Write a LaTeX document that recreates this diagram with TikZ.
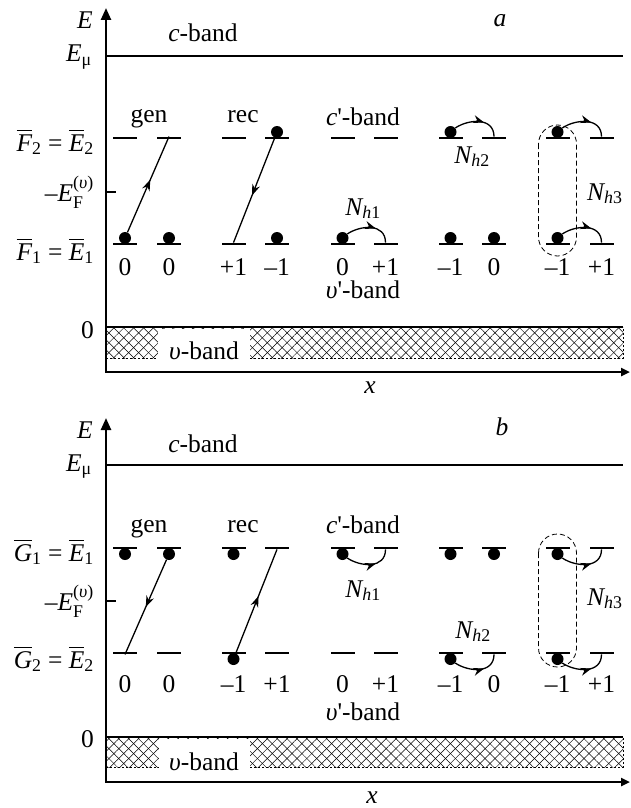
\documentclass[tikz,border=0pt]{standalone}
\usepackage{amsmath}
\usepackage{fontspec}
\setmainfont{Liberation Serif}
\usetikzlibrary{arrows.meta,patterns.meta,decorations.markings}
\newcommand{\vi}[1]{\text{\itshape #1}}
\begin{document}
\begin{tikzpicture}[x=1pt,y=-1pt,
  every node/.style={font=\fontsize{25.5}{30}\selectfont, inner sep=0pt},
  lev/.style={rectangle,fill=black,minimum width=24pt,minimum height=2.4pt,inner sep=0pt},
  ball/.style={circle,fill=black,minimum size=12pt,inner sep=0pt},
  conn/.style={line width=1.3pt},
  tipmid/.style={postaction={decorate},decoration={markings,mark=at position #1 with {\arrow{Stealth[length=11pt,width=8pt]}}}},
  axisline/.style={line width=2.4pt},
  bandline/.style={line width=2pt},
  oval/.style={line width=0.8pt,dash pattern=on 5pt off 3pt,rounded corners=19pt},
  hatchA/.style={pattern={Lines[angle=45,distance=7pt,line width=0.5pt]}},
  hatchB/.style={pattern={Lines[angle=-45,distance=7pt,line width=0.5pt]}},
  ]
\useasboundingbox (0,0) rectangle (630,808);

% ================= panel a =================
\foreach \i/\x in {1/125,2/169,3/233.5,4/277,5/342.5,6/385.5,7/450.5,8/494,9/557.5,10/601.5}{
  \node[lev] (aT\i) at (\x,138) {};
  \node[lev] (aB\i) at (\x,244) {};
}
% hatched v-band
\fill[hatchA] (106,327) rectangle (623,358);
\fill[hatchB] (106,327) rectangle (623,358);
\draw[line width=0.5pt,dash pattern=on 2pt off 2pt] (106,358) -- (623,358) -- (623,327);
\fill[white] (158,329) rectangle (250,359);
\node[anchor=base] (avband) at (204,359) {\textit{υ}-band};
\draw[bandline] (106,327) -- (623,327);
% axes
\draw[axisline,{Triangle[length=12pt,width=10pt]}-{Triangle[length=9pt,width=8pt]}] (106,8) -- (106,372) -- (630,372);
\draw[line width=1.5pt] (106,192) -- (116,192);
\draw[bandline] (106,56) -- (623,56);
% labels
\node[anchor=base east] (aE) at (93,29) {$\vi{E}$};
\node[anchor=base east] (aEmu) at (92,62) {$\vi{E}_{\text{μ}}$};
\node[anchor=base] (acband) at (203,42) {\textit{c}-band};
\node[anchor=base] (alab) at (500,27) {\textit{a}};
\node[anchor=base east] (aF2) at (94,151) {$\overline{\vi{F}}_{\text{2}}\text{ = }\overline{\vi{E}}_{\text{2}}$};
\node[anchor=base east] (aEF) at (94,201) {$\text{–}\vi{E}_{\text{F}}^{\text{(}\vi{υ}\text{)}}$};
\node[anchor=base east] (aF1) at (94,260) {$\overline{\vi{F}}_{\text{1}}\text{ = }\overline{\vi{E}}_{\text{1}}$};
\node[anchor=base east] (azero) at (94,338) {0};
\node[anchor=base] (agen) at (149,122) {gen};
\node[anchor=base] (arec) at (243,122) {rec};
\node[anchor=base] (acp) at (363,125) {\textit{c}\textquotesingle-band};
\node[anchor=base] (avp) at (363,298) {\textit{υ}\textquotesingle-band};
\node[anchor=base] (aNh1) at (363,215) {$\vi{N}_{\vi{h}\text{1}}$};
\node[anchor=base] (aNh2) at (472,163) {$\vi{N}_{\vi{h}\text{2}}$};
\node[anchor=base west] (aNh3) at (587,200) {$\vi{N}_{\vi{h}\text{3}}$};
\node[anchor=base] (ax) at (370,393) {\textit{x}};
\foreach \i/\x/\t in {1/125/0,2/169/0,3/233.5/+1,4/277/–1,5/342.5/0,6/385.5/+1,7/450.5/–1,8/494/0,9/557.5/–1,10/601.5/+1}{
  \node[anchor=base] (an\i) at (\x,275) {\t};
}
% dots
\node[ball] (daB1) at (125,238) {};
\node[ball] (daB2) at (169,238) {};
\node[ball] (daT4) at (277,132) {};
\node[ball] (daB4) at (277,238) {};
\node[ball] (daB5) at (342.5,238) {};
\node[ball] (daT7) at (450.5,132) {};
\node[ball] (daB7) at (450.5,238) {};
\node[ball] (daB8) at (494,238) {};
\node[ball] (daT9) at (557.5,132) {};
\node[ball] (daB9) at (557.5,238) {};
% transitions
\draw[conn,tipmid=0.55] (daB1) -- (aT2.north);
\draw[conn,tipmid=0.55] (daT4) -- (aB3.north);
\draw[conn,tipmid=0.62] (daB5.40) .. controls (360.5,225) and (385.5,223) .. (aB6.north);
\draw[conn,tipmid=0.62] (daT7.40) .. controls (468.5,119) and (494,117) .. (aT8.north);
\draw[conn,tipmid=0.62] (daT9.40) .. controls (575.5,119) and (601.5,117) .. (aT10.north);
\draw[conn,tipmid=0.62] (daB9.40) .. controls (575.5,225) and (601.5,223) .. (aB10.north);
\draw[oval] (538.5,125) rectangle (576.5,256);

% ================= panel b =================
\foreach \i/\x in {1/125,2/169,3/233.5,4/277,5/342.5,6/385.5,7/450.5,8/494,9/557.5,10/601.5}{
  \node[lev] (bT\i) at (\x,548) {};
  \node[lev] (bB\i) at (\x,653) {};
}
\fill[hatchA] (106,737) rectangle (623,767);
\fill[hatchB] (106,737) rectangle (623,767);
\draw[line width=0.5pt,dash pattern=on 2pt off 2pt] (106,767) -- (623,767) -- (623,737);
\fill[white] (159,739) rectangle (250,768);
\node[anchor=base] (bvband) at (204,770) {\textit{υ}-band};
\draw[bandline] (106,737) -- (623,737);
\draw[axisline,{Triangle[length=12pt,width=10pt]}-{Triangle[length=9pt,width=8pt]}] (106,418) -- (106,782) -- (630,782);
\draw[line width=1.5pt] (106,601) -- (116,601);
\draw[bandline] (106,465) -- (623,465);
\node[anchor=base east] (bE) at (93,438) {$\vi{E}$};
\node[anchor=base east] (bEmu) at (92,471) {$\vi{E}_{\text{μ}}$};
\node[anchor=base] (bcband) at (203,452) {\textit{c}-band};
\node[anchor=base] (blab) at (502,435) {\textit{b}};
\node[anchor=base east] (bG1) at (94,561) {$\overline{\vi{G}}_{\text{1}}\text{ = }\overline{\vi{E}}_{\text{1}}$};
\node[anchor=base east] (bEF) at (94,610) {$\text{–}\vi{E}_{\text{F}}^{\text{(}\vi{υ}\text{)}}$};
\node[anchor=base east] (bG2) at (94,668) {$\overline{\vi{G}}_{\text{2}}\text{ = }\overline{\vi{E}}_{\text{2}}$};
\node[anchor=base east] (bzero) at (94,747) {0};
\node[anchor=base] (bgen) at (149,532) {gen};
\node[anchor=base] (brec) at (243,532) {rec};
\node[anchor=base] (bcp) at (363,533) {\textit{c}\textquotesingle-band};
\node[anchor=base] (bvp) at (363,720) {\textit{υ}\textquotesingle-band};
\node[anchor=base] (bNh1) at (363,597) {$\vi{N}_{\vi{h}\text{1}}$};
\node[anchor=base] (bNh2) at (473,638) {$\vi{N}_{\vi{h}\text{2}}$};
\node[anchor=base west] (bNh3) at (587,605) {$\vi{N}_{\vi{h}\text{3}}$};
\node[anchor=base] (bx) at (372,803) {\textit{x}};
\foreach \i/\x/\t in {1/125/0,2/169/0,3/233.5/–1,4/277/+1,5/342.5/0,6/385.5/+1,7/450.5/–1,8/494/0,9/557.5/–1,10/601.5/+1}{
  \node[anchor=base] (bn\i) at (\x,692) {\t};
}
\node[ball] (dbT1) at (125,554) {};
\node[ball] (dbT2) at (169,554) {};
\node[ball] (dbT3) at (233.5,554) {};
\node[ball] (dbT5) at (342.5,554) {};
\node[ball] (dbT7) at (450.5,554) {};
\node[ball] (dbT8) at (494,554) {};
\node[ball] (dbT9) at (557.5,554) {};
\node[ball] (dbB3) at (233.5,659) {};
\node[ball] (dbB7) at (450.5,659) {};
\node[ball] (dbB9) at (557.5,659) {};
\draw[conn,tipmid=0.5] (dbT2) -- (bB1.south);
\draw[conn,tipmid=0.55] (dbB3) -- (bT4.south);
\draw[conn,tipmid=0.62] (dbT5.-40) .. controls (360.5,567) and (385.5,569) .. (bT6.south);
\draw[conn,tipmid=0.62] (dbB7.-40) .. controls (468.5,672) and (494,674) .. (bB8.south);
\draw[conn,tipmid=0.62] (dbT9.-40) .. controls (575.5,567) and (601.5,569) .. (bT10.south);
\draw[conn,tipmid=0.62] (dbB9.-40) .. controls (575.5,672) and (601.5,674) .. (bB10.south);
\draw[oval] (538.5,534) rectangle (576.5,667);
\end{tikzpicture}
\end{document}
